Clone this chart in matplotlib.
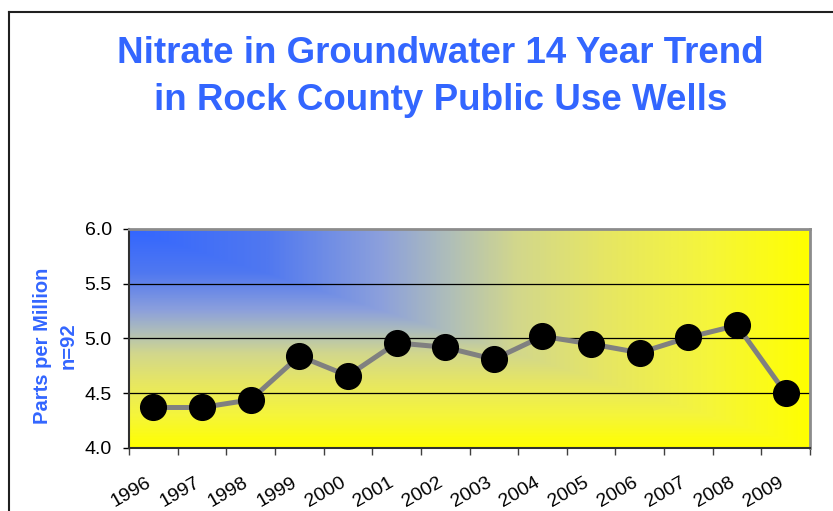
import matplotlib
matplotlib.use('Agg')
import matplotlib.pyplot as plt
import matplotlib.transforms as mtransforms
from matplotlib.colors import LinearSegmentedColormap
from matplotlib.lines import Line2D
import numpy as np

# data
years = ['1996', '1997', '1998', '1999', '2000', '2001', '2002',
         '2003', '2004', '2005', '2006', '2007', '2008', '2009']
nitrate = [4.37, 4.37, 4.44, 4.84, 4.66, 4.96, 4.92,
           4.81, 5.02, 4.95, 4.87, 5.01, 5.12, 4.50]
title_lines = ['Nitrate in Groundwater 14 Year Trend',
               'in Rock County Public Use Wells']
ylabel_text = 'Parts per Million\nn=92'

blue = '#3366ff'
plt.rcParams['font.family'] = ['Liberation Sans', 'DejaVu Sans']

fig = plt.figure(figsize=(8.33, 5.11), dpi=100)
ax = fig.add_axes([129 / 833, 1 - 448 / 511, 681 / 833, 219 / 511])

# "from corner" gradient: blue in the top-left corner, yellow elsewhere
stops = [(0.0, (51, 102, 255)), (0.2, (80, 120, 240)), (0.37, (140, 160, 220)),
         (0.47, (175, 190, 185)), (0.57, (210, 215, 140)), (0.7, (230, 230, 100)),
         (0.85, (245, 245, 60)), (1.0, (255, 255, 0))]
cmap = LinearSegmentedColormap.from_list(
    'corner', [(p, tuple(c / 255 for c in rgb)) for p, rgb in stops])
u = np.linspace(0, 1, 400)[None, :]
v = np.linspace(0, 1, 200)[:, None]   # row 0 = top of the plot
t = np.maximum(u, v)
n = len(years)
ax.imshow(t, cmap=cmap, vmin=0, vmax=1, extent=(0, n, 4.0, 6.0),
          origin='upper', aspect='auto', zorder=0, interpolation='bilinear')

x = np.arange(n) + 0.5
ax.plot(x, nitrate, color='#808080', linewidth=3.6, zorder=3,
        marker='o', markersize=18.5, markerfacecolor='black',
        markeredgecolor='black')

ax.set_xlim(0, n)
ax.set_ylim(4.0, 6.0)

for yv in [4.5, 5.0, 5.5]:
    ax.axhline(yv, color='black', linewidth=0.9, zorder=1)

ax.set_yticks([4.0, 4.5, 5.0, 5.5, 6.0])
ax.set_yticklabels(['4.0', '4.5', '5.0', '5.5', '6.0'], fontsize=14)
ax.tick_params(axis='y', direction='out', length=4.5, width=1, pad=8,
               color='black')

ax.set_xticks(np.arange(n + 1))
ax.set_xticklabels([])
ax.set_xticks(x, minor=True)
ax.set_xticklabels(years, minor=True, fontsize=14, rotation=30,
                   ha='right', va='top', rotation_mode='anchor')
ax.tick_params(axis='x', which='major', direction='out', length=5,
               width=1, color='#404040')
ax.tick_params(axis='x', which='minor', length=0, pad=19)
offset = mtransforms.ScaledTranslation(-8 / 100, 0, fig.dpi_scale_trans)
for lab in ax.get_xticklabels(minor=True):
    lab.set_transform(lab.get_transform() + offset)

for side in ['left', 'bottom']:
    ax.spines[side].set_color('#303030')
    ax.spines[side].set_linewidth(1.5)
for side in ['top', 'right']:
    ax.spines[side].set_color('#8c8c8c')
    ax.spines[side].set_linewidth(2)

fig.text(440.5 / 833, 1 - 63 / 511, title_lines[0], ha='center',
         va='baseline', fontsize=26.5, fontweight='bold', color=blue)
fig.text(440.5 / 833, 1 - 110 / 511, title_lines[1], ha='center',
         va='baseline', fontsize=26.5, fontweight='bold', color=blue)

fig.text(55 / 833, 1 - 346 / 511, ylabel_text, rotation=90, ha='center',
         va='center', multialignment='center', linespacing=1.45,
         fontsize=14.5, fontweight='bold', color=blue)

# outer frame (left and top edges only are visible)
fig.add_artist(Line2D([9 / 833, 9 / 833], [-0.1, 1 - 12 / 511],
                      transform=fig.transFigure, color='#202020', linewidth=1.5))
fig.add_artist(Line2D([9 / 833, 1.1], [1 - 12 / 511, 1 - 12 / 511],
                      transform=fig.transFigure, color='#202020', linewidth=1.5))

fig.savefig('out.png', dpi=100)
